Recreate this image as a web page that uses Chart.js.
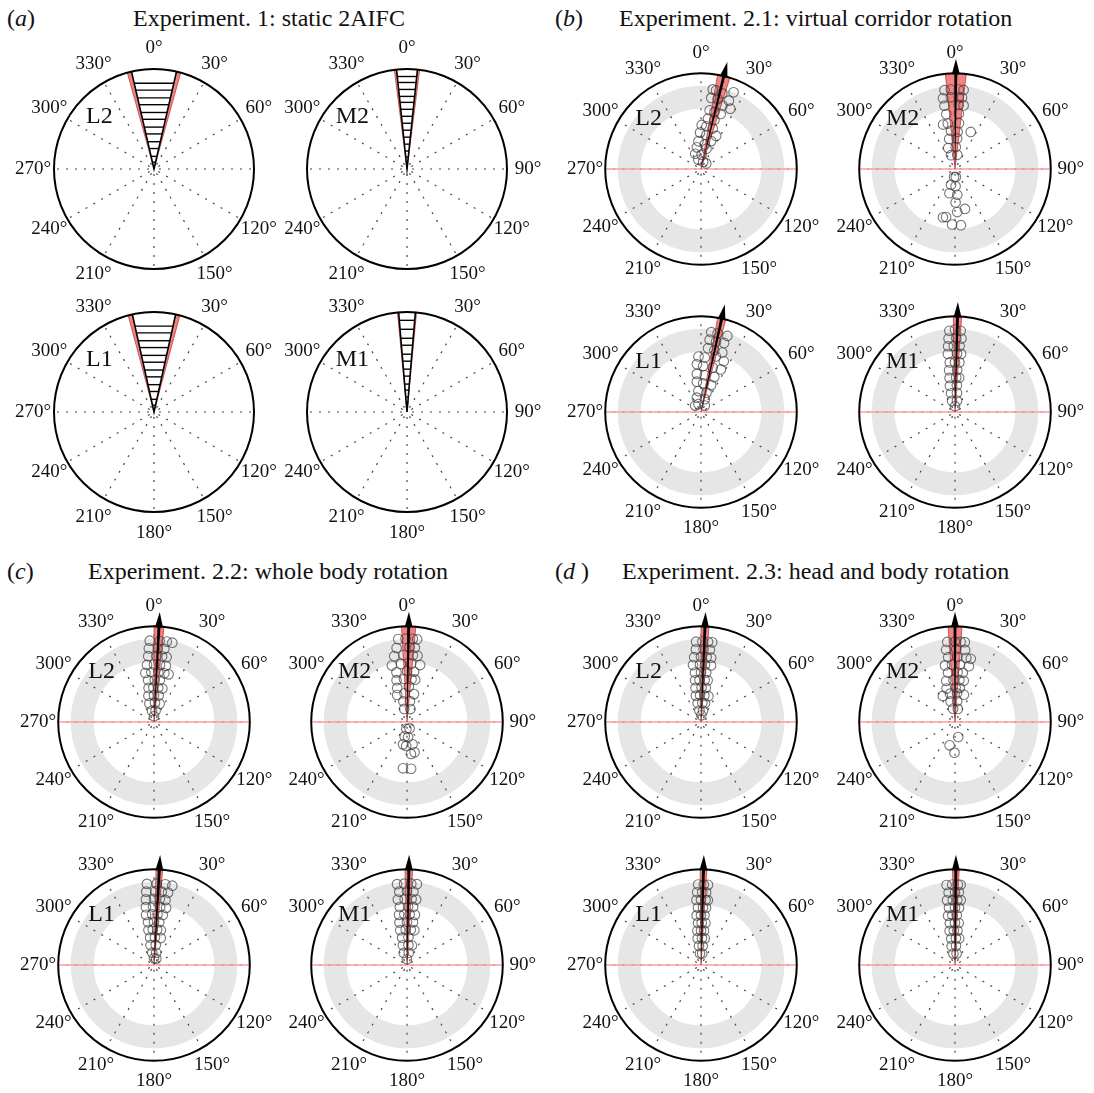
<!DOCTYPE html>
<html>
<head>
<meta charset="utf-8">
<script src="https://cdn.jsdelivr.net/npm/chart.js@4.4.1/dist/chart.umd.min.js"></script>
<style>
body { margin: 0; background: #fff; width: 1094px; height: 1093px; position: relative; overflow: hidden; font-family: "Liberation Serif", serif; color: #111; }
.plot { position: absolute; }
.lbl { position: absolute; font-size: 24px; line-height: 24px; white-space: nowrap; }
</style>
</head>
<body>
<div class="lbl" style="left:7px;top:6px">(<i>a</i>)</div>
<div class="lbl" style="left:133px;top:6px">Experiment. 1: static 2AIFC</div>
<div class="lbl" style="left:555px;top:6px">(<i>b</i>)</div>
<div class="lbl" style="left:619px;top:6px">Experiment. 2.1: virtual corridor rotation</div>
<div class="lbl" style="left:7px;top:559px">(<i>c</i>)</div>
<div class="lbl" style="left:88px;top:559px">Experiment. 2.2: whole body rotation</div>
<div class="lbl" style="left:555px;top:559px">(<i>d</i> )</div>
<div class="lbl" style="left:622px;top:559px">Experiment. 2.3: head and body rotation</div>
<script>
// angle labels around every dial
const angleTicks = [0, 30, 60, 90, 120, 150, 180, 210, 240, 270, 300, 330];

// grid of subplot centres (px)
const colX = [154, 407, 701, 955];
const rowY = [169, 412, 722, 965];

// experiment 1: rungs of the stacked wedges
const rungsL = [0.88, 0.81, 0.73, 0.66, 0.58, 0.51, 0.43, 0.36, 0.28, 0.21, 0.13, 0.07];
const rungsM2 = [0.93, 0.87, 0.80, 0.73, 0.67, 0.60, 0.53, 0.46, 0.39, 0.32, 0.25, 0.18, 0.12];
const rungsM1 = [0.92, 0.83, 0.74, 0.67, 0.58, 0.51, 0.43, 0.36, 0.28, 0.22, 0.15];

// responses: [angle deg, radius] or [radius, [angles...]]
const ptsB_L2 = [[8.4,.84],[10.8,.835],[15.7,.82],[23,.87],[8.2,.75],[13.4,.75],[22.2,.77],[18.7,.70],[25.9,.70],
  [8.4,.62],[13.3,.61],[19.7,.61],[7.9,.53],[15.4,.53],[0.9,.46],[7.3,.45],[16.1,.44],[-1.5,.38],[9,.36],[24.6,.38],
  [20,.31],[-5.3,.29],[8.7,.26],[-10.8,.23],[15.2,.22],[-20.6,.17],[2.5,.15],[-16,.10],[16.7,.08],[43,.08]];
const ptsB_M2 = [[-7.6,.83],[-3,.83],[2.8,.83],[6.2,.83],[-9.6,.75],[-3.3,.75],[3,.75],[5.6,.75],[-9.4,.67],[3.4,.67],[7.7,.67],
  [-9,.58],[4,.58],[-15,.48],[-9,.48],[5,.48],[-6,.40],[4,.39],[23,.42],[-11,.32],[4,.32],[-18,.23],[2,.23],[-16,.15],[9,.15],
  [187,.084],[174,.083],[194,.17],[178,.18],[193,.26],[175,.27],[179,.35],[166,.43],[177,.45],[194,.52],[190.5,.51],[183,.58],[174,.59]];
const ptsB_L1 = [[7.3,.84],[11.9,.84],[19.1,.84],[6.8,.76],[12.1,.75],[18.5,.76],[6.3,.67],[12.2,.66],[19.7,.66],
  [-2.6,.58],[4,.57],[15,.60],[24.2,.58],[-4.9,.50],[2.7,.48],[14.8,.48],[25,.49],[-6.2,.40],[6,.385],[20.9,.39],
  [-7.8,.32],[4.4,.30],[20.7,.30],[-7,.22],[15.9,.21],[-16,.156],[16.7,.14],[-18,.087],[31,.078],[-42,.09]];
const ptsB_M1 = [[.85,[-4,4]],[.86,[0]],[.77,[-5,1,5]],[.69,[-6,-1,4]],[.61,[-7,2,6]],[.52,[-6,0,5]],[.44,[-8,3]],
  [.36,[-9,2,7]],[.28,[-11,4]],[.20,[-12,6]],[.12,[-15,10]],[.06,[0]]];
const ptsC_L2 = [[.85,[-3,4,9,13]],[.77,[-4,3,8]],[.69,[-5,2,7,11]],[.60,[-7,0,6,12]],[.52,[-10,-3,5,12,17]],[.44,[-8,1,8]],
  [.36,[-9,-1,7,14]],[.28,[-12,0,10]],[.20,[-14,3,17]],[.12,[-10,8]],[.06,[0]]];
const ptsC_M2 = [[.87,[-6,-1,4,7]],[.78,[-8,2,6]],[.70,[-11,-3,5,9]],[.61,[-15,-6,4,13]],[.53,[-12,0,8]],[.45,[-14,-4,6,11]],
  [.37,[-16,3]],[.30,[-20,-5,14]],[.22,[-10,8]],[.14,[-12,15]],
  [185,.073],[158,.072],[189,.152],[176,.16],[190,.237],[166,.24],[182,.25],[166,.326],[173,.336],[185,.485],[175,.49]];
const ptsC_L1 = [[.85,[-5,2,8,13]],[.77,[-6,1,6,11]],[.69,[-7,0,5,10]],[.61,[-8,-1,6,12]],[.53,[-9,-2,4,10]],[.45,[-8,0,7]],
  [.37,[-9,-2,5,11]],[.29,[-8,2,14]],[.21,[-10,5]],[.13,[-8,10]],[.07,[0,20]]];
const ptsC_M1 = [[.85,[-7,-2,3,7]],[.77,[-6,0,5]],[.69,[-8,-2,4,8]],[.61,[-7,1,6]],[.53,[-9,-3,3,9]],[.45,[-10,0,8]],
  [.37,[-11,-2,6,12]],[.29,[-10,3]],[.21,[-12,4,14]],[.13,[-15,8]],[.06,[0]]];
const ptsD_L2 = [[.84,[-3.5,1,5,8]],[.76,[-4,2,7]],[.68,[-6,0,5,9]],[.60,[-8,-1,4,10]],[.52,[-7,0,6]],[.44,[-8,-2,5,9]],
  [.36,[-9,1,8]],[.28,[-11,-2,7,16]],[.20,[-10,4,12]],[.12,[-8,10]],[.07,[3]]];
const ptsD_M2 = [[.84,[-5.5,0,4,7]],[.76,[-7,1,8]],[.68,[-6,2,10,14]],[.60,[-10,-3,5,14]],[.52,[-8,3,9]],[.44,[-12,-2,6,12]],
  [.36,[-14,1,8]],[.30,[-25,-10,4,18]],[.22,[-12,6]],[.14,[-8,12]],[168,.16],[193,.25],[181,.32]];
const ptsD_L1 = [[.84,[-2,2,5]],[.76,[-3,1,4]],[.68,[-4,0,4,6]],[.60,[-3,2,5]],[.52,[-5,0,4]],[.44,[-4,1,6]],
  [.36,[-6,0,5]],[.28,[-7,2,8]],[.20,[-6,5]],[.12,[-5,6]]];
const ptsD_M1 = [[.84,[-6,-2,2,4]],[.76,[-5,0,3]],[.68,[-7,-2,2,5]],[.60,[-6,0,4]],[.52,[-8,-3,2]],[.44,[-7,0,5]],
  [.36,[-9,-2,4]],[.28,[-8,2,9]],[.20,[-10,3]],[.12,[-8,8]]];

// subplot set-up: col, row, label, mean direction, pink half-width
const subplots = [
  {col: 0, row: 0, name: 'L2', mean: 0, pink: 15.5, black: 13, rungs: rungsL},
  {col: 1, row: 0, name: 'M2', mean: 0, pink: 7.3, black: 6, rungs: rungsM2},
  {col: 0, row: 1, name: 'L1', mean: 0, pink: 15, black: 12.5, rungs: rungsL},
  {col: 1, row: 1, name: 'M1', mean: 0, pink: 5.5, black: 4.8, rungs: rungsM1},
  {col: 2, row: 0, name: 'L2', mean: 13.8, pink: 3.8, pts: ptsB_L2},
  {col: 3, row: 0, name: 'M2', mean: 0.5, pink: 6.3, pts: ptsB_M2},
  {col: 2, row: 1, name: 'L1', mean: 12.5, pink: 2.5, pts: ptsB_L1},
  {col: 3, row: 1, name: 'M1', mean: 1.5, pink: 2.5, pts: ptsB_M1},
  {col: 0, row: 2, name: 'L2', mean: 3, pink: 3, pts: ptsC_L2},
  {col: 1, row: 2, name: 'M2', mean: 1, pink: 4.3, pts: ptsC_M2},
  {col: 0, row: 3, name: 'L1', mean: 3.2, pink: 2, pts: ptsC_L1},
  {col: 1, row: 3, name: 'M1', mean: 1.1, pink: 2.3, pts: ptsC_M1},
  {col: 2, row: 2, name: 'L2', mean: 2.4, pink: 2.4, pts: ptsD_L2},
  {col: 3, row: 2, name: 'M2', mean: 0, pink: 4.2, pts: ptsD_M2},
  {col: 2, row: 3, name: 'L1', mean: 1.5, pink: 2, pts: ptsD_L1},
  {col: 3, row: 3, name: 'M1', mean: 0.5, pink: 2, pts: ptsD_M1},
];

const RING_IN = 0.63, RING_OUT = 0.87;

function toXY(a, r) {
  const t = a * Math.PI / 180;
  return {x: r * Math.sin(t), y: r * Math.cos(t)};
}

function flatten(list) {
  const out = [];
  list.forEach(it => {
    if (Array.isArray(it[1])) it[1].forEach(a => out.push([a, it[0]]));
    else out.push(it);
  });
  return out;
}

function makeDecor(cfg) {
  const pos = (chart) => {
    const xs = chart.scales.x, ys = chart.scales.y;
    return (r, a) => {
      const p = toXY(a, r);
      return [xs.getPixelForValue(p.x), ys.getPixelForValue(p.y)];
    };
  };
  const wedgePath = (ctx, P, r, a0, a1) => {
    ctx.beginPath();
    ctx.moveTo(...P(0, 0));
    for (let i = 0; i <= 24; i++) ctx.lineTo(...P(r, a0 + (a1 - a0) * i / 24));
    ctx.closePath();
  };
  return {
    id: 'polarDecor',
    beforeDatasetsDraw(chart) {
      const ctx = chart.ctx, P = pos(chart);
      const c = P(0, 0), px = (r) => P(r, 90)[0] - c[0];
      ctx.save();
      if (cfg.pts) {
        ctx.fillStyle = '#e6e6e6';
        ctx.beginPath();
        ctx.arc(c[0], c[1], px(RING_OUT), 0, Math.PI * 2);
        ctx.arc(c[0], c[1], px(RING_IN), 0, Math.PI * 2, true);
        ctx.fill();
      }
      // dotted spokes
      ctx.strokeStyle = '#444';
      ctx.lineWidth = 1.2;
      ctx.setLineDash([2, 7]);
      angleTicks.forEach(a => {
        ctx.beginPath();
        ctx.moveTo(...P(0.05, a));
        ctx.lineTo(...P(1, a));
        ctx.stroke();
      });
      ctx.setLineDash([]);
      if (cfg.pts) {
        ctx.strokeStyle = '#ff9c9c';
        ctx.lineWidth = 1.5;
        ctx.beginPath();
        ctx.moveTo(...P(1, 270));
        ctx.lineTo(...P(1, 90));
        ctx.stroke();
      }
      // confidence wedge
      wedgePath(ctx, P, 1, cfg.mean - cfg.pink, cfg.mean + cfg.pink);
      ctx.fillStyle = 'rgb(243,130,130)';
      ctx.fill();
      ctx.strokeStyle = 'rgba(170,40,40,0.8)';
      ctx.lineWidth = 0.8;
      ctx.stroke();
      if (cfg.rungs) {
        wedgePath(ctx, P, 1, -cfg.black, cfg.black);
        ctx.fillStyle = '#fff';
        ctx.fill();
        ctx.strokeStyle = '#000';
        ctx.lineWidth = 1.6;
        ctx.beginPath();
        ctx.moveTo(...P(1, -cfg.black));
        ctx.lineTo(...P(0, 0));
        ctx.lineTo(...P(1, cfg.black));
        ctx.stroke();
        ctx.lineWidth = 1.4;
        cfg.rungs.forEach(r => {
          ctx.beginPath();
          ctx.moveTo(...P(r, -cfg.black));
          ctx.lineTo(...P(r, cfg.black));
          ctx.stroke();
        });
      }
      ctx.restore();
    },
    afterDatasetsDraw(chart) {
      const ctx = chart.ctx, P = pos(chart);
      const c = P(0, 0), R = P(1, 90)[0] - c[0];
      ctx.save();
      if (cfg.pts) {
        const m = cfg.mean;
        ctx.fillStyle = '#000';
        ctx.beginPath();
        ctx.moveTo(...P(0, m));
        ctx.lineTo(...P(1.0, m - 0.9));
        ctx.lineTo(...P(1.0, m + 0.9));
        ctx.closePath();
        ctx.fill();
        ctx.beginPath();
        ctx.moveTo(...P(1.15, m));
        ctx.lineTo(...P(0.99, m - 2.4));
        ctx.lineTo(...P(0.99, m + 2.4));
        ctx.closePath();
        ctx.fill();
      }
      ctx.strokeStyle = '#000';
      ctx.lineWidth = 2;
      ctx.beginPath();
      ctx.arc(c[0], c[1], R, 0, Math.PI * 2);
      ctx.stroke();
      // tick labels
      ctx.fillStyle = '#111';
      ctx.font = "19px 'Liberation Serif'";
      ctx.textAlign = 'center';
      ctx.textBaseline = 'middle';
      const hide = [cfg.row % 2 ? 0 : 180, cfg.col % 2 ? 270 : 90];
      angleTicks.forEach(a => {
        if (hide.includes(a)) return;
        ctx.fillText(a + '°', ...P(1.21, a));
      });
      ctx.font = "24px 'Liberation Serif'";
      ctx.fillText(cfg.name, ...P(0.76, 314));
      ctx.restore();
    }
  };
}

subplots.forEach((cfg) => {
  const cv = document.createElement('canvas');
  cv.width = 280;
  cv.height = 280;
  cv.className = 'plot';
  cv.style.left = (colX[cfg.col] - 140) + 'px';
  cv.style.top = (rowY[cfg.row] - 140) + 'px';
  document.body.appendChild(cv);
  const pts = flatten(cfg.pts || []).map(([a, r]) => toXY(a, r));
  new Chart(cv, {
    type: 'scatter',
    data: {
      datasets: [{
        data: pts,
        pointRadius: 4.8,
        pointHoverRadius: 4.8,
        borderWidth: 1.1,
        borderColor: 'rgba(60,60,60,0.7)',
        backgroundColor: 'rgba(0,0,0,0)'
      }]
    },
    options: {
      responsive: false,
      animation: false,
      events: [],
      layout: {padding: 0},
      scales: {
        x: {type: 'linear', min: -1.4, max: 1.4, display: false},
        y: {type: 'linear', min: -1.4, max: 1.4, display: false}
      },
      plugins: {legend: {display: false}, tooltip: {enabled: false}}
    },
    plugins: [makeDecor(cfg)]
  });
});
</script>
</body>
</html>
